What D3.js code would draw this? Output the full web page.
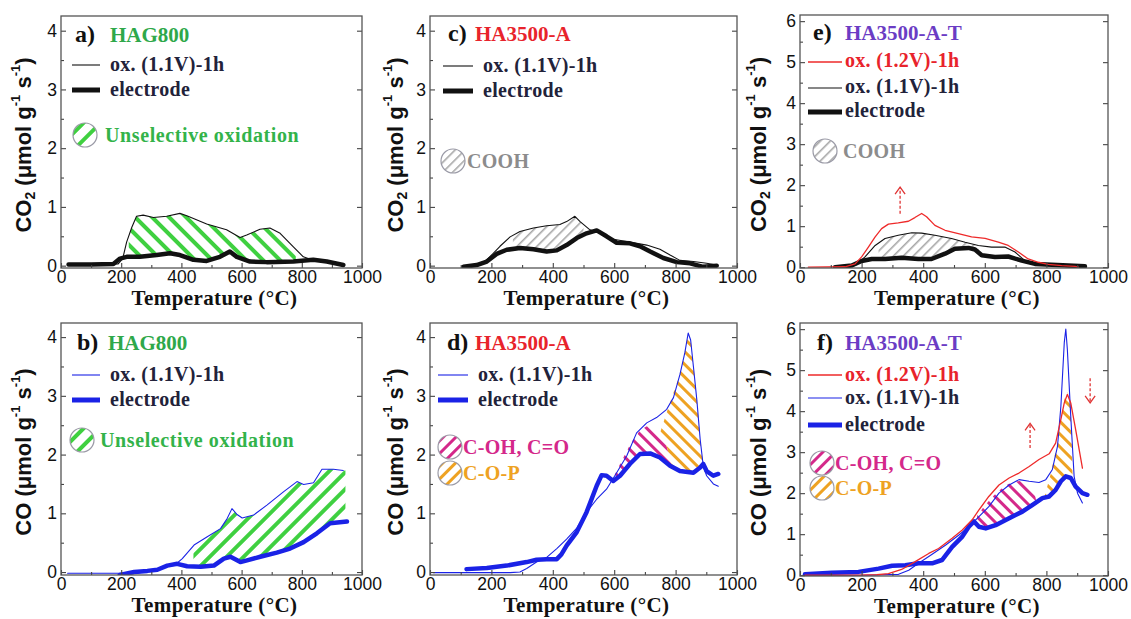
<!DOCTYPE html>
<html><head><meta charset="utf-8">
<script src="https://cdn.jsdelivr.net/npm/d3@7"></script>
<style>
html,body{margin:0;padding:0;background:#fff;}
svg{display:block;}
</style></head>
<body><svg id="fig" width="1131" height="619"></svg>
<script>
// ---------- TPD data: [temperature (°C), desorption rate (µmol g-1 s-1)] ----------
const tempTicks = [0, 200, 400, 600, 800, 1000];
const tempMinor = [100, 300, 500, 700, 900];
const rateTicks4 = [0, 1, 2, 3, 4];
const rateMinor4 = [0.5, 1.5, 2.5, 3.5];
const rateTicks6 = [0, 1, 2, 3, 4, 5, 6];
const rateMinor6 = [0.5, 1.5, 2.5, 3.5, 4.5, 5.5];

// a) HAG800, CO2
const aOx = [[25,0.02],[100,0.02],[190,0.03],[205,0.12],[218,0.4],[235,0.65],[251,0.84],[273,0.86],[307,0.82],[351,0.84],[395,0.89],[418,0.85],[484,0.71],[550,0.61],[595,0.48],[617,0.52],[661,0.62],[694,0.64],[728,0.55],[772,0.32],[805,0.15],[833,0.1],[860,0.09],[905,0.05],[938,0.02]];
const aEl = [[25,0.02],[100,0.02],[174,0.03],[196,0.12],[218,0.15],[262,0.15],[318,0.18],[362,0.21],[395,0.18],[440,0.1],[484,0.08],[528,0.15],[561,0.24],[584,0.15],[628,0.07],[683,0.06],[772,0.07],[838,0.1],[883,0.07],[938,0.01]];
const aBand = [225, 780];

// b) HAG800, CO
const bOx = [[22,-0.02],[200,-0.02],[210,-0.05],[250,-0.02],[300,0.02],[350,0.09],[385,0.15],[403,0.23],[442,0.46],[486,0.6],[530,0.74],[552,0.91],[568,1.08],[585,0.98],[602,0.92],[640,0.97],[684,1.14],[740,1.37],[784,1.54],[806,1.49],[839,1.52],[867,1.75],[905,1.75],[938,1.73]];
const bEl = [[195,-0.05],[243,0.0],[287,0.02],[320,0.04],[353,0.11],[386,0.14],[419,0.1],[464,0.09],[508,0.11],[541,0.23],[563,0.26],[596,0.17],[618,0.2],[662,0.26],[717,0.33],[761,0.4],[806,0.51],[850,0.66],[894,0.83],[950,0.86]];
const bBand = [440, 945];

// c) HA3500-A, CO2
const cOx = [[119,0],[163,0.02],[185,0.1],[206,0.21],[228,0.33],[261,0.49],[293,0.58],[337,0.64],[380,0.68],[423,0.7],[445,0.75],[472,0.84],[489,0.75],[521,0.61],[554,0.55],[597,0.45],[641,0.41],[706,0.35],[749,0.28],[782,0.18],[814,0.09],[858,0.07],[901,0.04],[934,0.01]];
const cEl = [[109,-0.02],[152,0.01],[185,0.07],[217,0.2],[250,0.27],[293,0.3],[337,0.28],[380,0.24],[413,0.26],[445,0.35],[478,0.47],[510,0.55],[543,0.6],[575,0.5],[608,0.39],[651,0.38],[684,0.33],[717,0.24],[760,0.13],[804,0.06],[847,0.04],[890,-0.02],[934,0]];
const cBand = [270, 500];

// d) HA3500-A, CO
const dOx = [[11,-0.01],[150,-0.01],[261,-0.01],[293,0],[315,0.06],[347,0.17],[380,0.25],[413,0.4],[445,0.56],[478,0.75],[510,1.02],[543,1.24],[575,1.41],[608,1.69],[641,1.98],[673,2.37],[706,2.54],[738,2.63],[771,2.77],[793,2.97],[814,3.36],[830,3.73],[841,4.07],[849,3.95],[858,3.5],[869,2.94],[880,2.26],[890,1.81],[901,1.64],[923,1.5],[939,1.46]];
const dEl = [[119,0.05],[185,0.07],[250,0.11],[315,0.17],[347,0.21],[380,0.22],[413,0.22],[428,0.3],[445,0.45],[478,0.68],[510,1.02],[543,1.47],[559,1.65],[575,1.64],[597,1.55],[619,1.64],[651,1.84],[684,2.01],[717,2.02],[749,1.95],[782,1.81],[814,1.72],[858,1.69],[880,1.78],[890,1.84],[901,1.72],[923,1.64],[939,1.67]];
const dPinkTop = [[598,1.62],[625,1.9],[655,2.2],[685,2.42],[712,2.5],[735,2.45],[755,2.32],[772,2.12],[785,1.86]];
const dOrangeEdge = [[745,2.3],[775,2.78],[803,3.2]];

// e) HA3500-A-T, CO2
const eRed = [[27,0],[146,0.01],[179,0.08],[200,0.25],[222,0.49],[244,0.74],[265,0.94],[287,1.05],[319,1.08],[352,1.12],[373,1.21],[395,1.31],[411,1.23],[438,1.02],[471,0.9],[514,0.82],[557,0.74],[601,0.7],[644,0.61],[676,0.53],[709,0.37],[741,0.2],[774,0.12],[806,0.07],[850,0.04],[893,0.02],[904,0]];
const eOx = [[114,0],[179,0.04],[211,0.25],[244,0.53],[276,0.7],[319,0.78],[363,0.84],[395,0.83],[438,0.78],[492,0.7],[536,0.61],[579,0.53],[622,0.49],[665,0.49],[698,0.37],[730,0.16],[774,0.08],[828,0.04],[882,0]];
const eEl = [[114,0],[168,0.04],[200,0.15],[233,0.2],[276,0.2],[330,0.23],[384,0.2],[427,0.2],[471,0.33],[503,0.45],[547,0.47],[568,0.43],[590,0.29],[633,0.25],[676,0.26],[720,0.16],[763,0.08],[817,0.06],[871,0.04],[925,0.02]];
const eBand = [255, 580];
const eArrow = [[325,1.3],[325,1.95]];

// f) HA3500-A-T, CO
const fRed = [[16,0],[190,0],[250,0.01],[287,0.04],[330,0.14],[374,0.33],[418,0.53],[450,0.65],[494,0.9],[527,1.1],[559,1.35],[581,1.59],[613,1.92],[646,2.2],[679,2.37],[711,2.49],[744,2.65],[776,2.82],[809,2.96],[830,3.22],[847,3.8],[858,4.2],[868,4.41],[879,4.2],[895,3.55],[917,2.61]];
const fOx = [[16,0],[200,0],[320,0.02],[353,0.12],[385,0.29],[429,0.51],[472,0.73],[516,0.98],[548,1.18],[581,1.43],[613,1.67],[646,2.0],[679,2.2],[711,2.33],[744,2.29],[776,2.26],[798,2.33],[819,2.57],[836,3.14],[847,4.12],[858,5.67],[863,6.0],[868,5.51],[879,3.88],[890,2.41],[901,2.0],[917,1.76]];
const fEl = [[16,0.02],[103,0.06],[190,0.08],[255,0.16],[299,0.23],[342,0.24],[385,0.29],[429,0.29],[461,0.37],[494,0.69],[527,0.94],[548,1.18],[565,1.31],[581,1.18],[603,1.14],[635,1.22],[679,1.39],[722,1.55],[754,1.71],[787,1.88],[809,1.92],[830,2.08],[847,2.29],[863,2.41],[879,2.37],[895,2.16],[917,2.0],[933,1.96]];
const fPinkTop = [[575,1.45],[600,1.7],[630,1.95],[660,2.15],[690,2.28],[720,2.3],[745,2.25],[760,2.05],[768,1.78]];
const fOrangeTop = [[795,1.95],[815,2.5],[835,3.2],[850,3.9],[862,4.45],[870,4.45],[878,4.2],[882,3.4],[885,2.4]];
const fArrowUp = [[747,3.1],[747,3.7]];
const fArrowDown = [[942,4.8],[942,4.2]];

// ---------- styling ----------
const SANS = "'Liberation Sans', Arial, sans-serif";
const SERIF = "'Liberation Serif', 'Times New Roman', serif";
const INK = '#111';
const BLUE = '#1a22e6';
const RED = '#ee2a2a';
const GREEN_TXT = '#2ea84a';
const GREEN_LBL = '#33b34a';
const RED_TXT = '#e8232b';
const PURPLE = '#6b3cc4';
const NAVY = '#22223a';
const GRAY_TXT = '#8c8c8c';
const PINK = '#d4288a';
const ORANGE = '#eea222';

const svg = d3.select('#fig');
const defs = svg.append('defs');

function hatch(id, color, angle, gap, width) {
  const p = defs.append('pattern').attr('id', id)
    .attr('patternUnits', 'userSpaceOnUse')
    .attr('width', gap).attr('height', gap)
    .attr('patternTransform', `rotate(${angle})`);
  p.append('rect').attr('x', 0).attr('y', 0).attr('width', width).attr('height', gap).attr('fill', color);
}
hatch('hGreenBack', '#3fd040', -45, 12, 4);
hatch('hGreenFwd', '#3fd040', 45, 12, 4);
hatch('hGray', '#a8a8a8', 45, 7, 1.6);
hatch('hPinkBack', PINK, -45, 9, 3);
hatch('hPinkFwd', PINK, 45, 9, 3);
hatch('hOrgBack', ORANGE, -45, 9, 3);
hatch('hOrgFwd', ORANGE, 45, 9, 3);

// linear interpolation along a measured curve
function at(series, t) {
  if (t <= series[0][0]) return series[0][1];
  for (let i = 1; i < series.length; i++) {
    if (t <= series[i][0]) {
      const [t0, v0] = series[i - 1], [t1, v1] = series[i];
      return v0 + (v1 - v0) * (t - t0) / (t1 - t0);
    }
  }
  return series[series.length - 1][1];
}
function sample(series, t0, t1, step = 3) {
  const pts = [];
  const dir = t1 >= t0 ? 1 : -1;
  for (let t = t0; dir > 0 ? t < t1 : t > t1; t += dir * step) pts.push([t, at(series, t)]);
  pts.push([t1, at(series, t1)]);
  return pts;
}
function band(upper, lower, range) {
  return sample(upper, range[0], range[1]).concat(sample(lower, range[1], range[0]));
}
function capOver(top, lower) {
  const t0 = top[0][0], t1 = top[top.length - 1][0];
  return top.concat(sample(lower, t1, t0));
}
const dOrangePoly = dOrangeEdge
  .concat(dOx.filter(d => d[0] > 803 && d[0] <= 890))
  .concat(sample(dEl, 890, 785))
  .concat(dPinkTop.filter(d => d[0] >= 745 && d[0] <= 785).reverse());

// ---------- panels ----------
const panels = [
  { key: 'a', x: [61, 362], y: [268, 16], dom: [-0.04, 4.25], ticks: rateTicks4, minor: rateMinor4, gas: 'CO2', titleX: 25,
    label: 'a)', name: 'HAG800', nameColor: GREEN_TXT, labelPos: [14, 26], namePos: [49, 26],
    bands: [{ poly: band(aOx, aEl, aBand), fill: 'url(#hGreenBack)' }],
    series: [{ d: aEl, c: INK, w: 4.5 }, { d: aOx, c: INK, w: 1.1 }],
    legend: [
      { type: 'line', c: INK, w: 1.1, x: [11, 39], y: 49, text: 'ox. (1.1V)-1h', tc: NAVY, tx: 49, ty: 55 },
      { type: 'line', c: INK, w: 5, x: [11, 39], y: 74, text: 'electrode', tc: NAVY, tx: 49, ty: 80 },
      { type: 'circle', fill: 'url(#hGreenFwd)', cx: 24, cy: 119, text: 'Unselective oxidation', tc: GREEN_LBL, tx: 44, ty: 126, ls: 0.6 }
    ] },
  { key: 'b', x: [61, 362], y: [575, 323], dom: [-0.05, 4.24], ticks: rateTicks4, minor: rateMinor4, gas: 'CO', titleX: 25,
    label: 'b)', name: 'HAG800', nameColor: GREEN_TXT, labelPos: [16, 27], namePos: [47, 27],
    bands: [{ poly: band(bOx, bEl, bBand), fill: 'url(#hGreenFwd)' }],
    series: [{ d: bEl, c: BLUE, w: 4.5 }, { d: bOx, c: BLUE, w: 1.1 }],
    legend: [
      { type: 'line', c: BLUE, w: 1.1, x: [11, 39], y: 52, text: 'ox. (1.1V)-1h', tc: NAVY, tx: 49, ty: 58 },
      { type: 'line', c: BLUE, w: 5, x: [11, 39], y: 77, text: 'electrode', tc: NAVY, tx: 49, ty: 83 },
      { type: 'circle', fill: 'url(#hGreenFwd)', cx: 21, cy: 117, text: 'Unselective oxidation', tc: GREEN_LBL, tx: 39, ty: 124, ls: 0.6 }
    ] },
  { key: 'c', x: [430, 737], y: [268, 16], dom: [-0.04, 4.25], ticks: rateTicks4, minor: rateMinor4, gas: 'CO2', titleX: 397,
    label: 'c)', name: 'HA3500-A', nameColor: RED_TXT, labelPos: [18, 25], namePos: [45, 25],
    bands: [{ poly: band(cOx, cEl, cBand), fill: 'url(#hGray)' }],
    series: [{ d: cEl, c: INK, w: 4.5 }, { d: cOx, c: INK, w: 1.1 }],
    legend: [
      { type: 'line', c: INK, w: 1.1, x: [13, 43], y: 50, text: 'ox. (1.1V)-1h', tc: NAVY, tx: 53, ty: 56 },
      { type: 'line', c: INK, w: 5, x: [13, 43], y: 75, text: 'electrode', tc: NAVY, tx: 53, ty: 81 },
      { type: 'circle', fill: 'url(#hGray)', cx: 23, cy: 145, text: 'COOH', tc: GRAY_TXT, tx: 37, ty: 152 }
    ] },
  { key: 'd', x: [430, 737], y: [575, 323], dom: [-0.05, 4.24], ticks: rateTicks4, minor: rateMinor4, gas: 'CO', titleX: 397,
    label: 'd)', name: 'HA3500-A', nameColor: RED_TXT, labelPos: [17, 27], namePos: [45, 27],
    bands: [{ poly: capOver(dPinkTop, dEl), fill: 'url(#hPinkBack)' }, { poly: dOrangePoly, fill: 'url(#hOrgBack)' }],
    series: [{ d: dEl, c: BLUE, w: 4.5 }, { d: dOx, c: BLUE, w: 1.1 }],
    legend: [
      { type: 'line', c: BLUE, w: 1.1, x: [8, 38], y: 52, text: 'ox. (1.1V)-1h', tc: NAVY, tx: 48, ty: 58 },
      { type: 'line', c: BLUE, w: 5, x: [8, 38], y: 77, text: 'electrode', tc: NAVY, tx: 48, ty: 83 },
      { type: 'circle', fill: 'url(#hPinkFwd)', cx: 20, cy: 124, text: 'C-OH, C=O', tc: PINK, tx: 33, ty: 131 },
      { type: 'circle', fill: 'url(#hOrgFwd)', cx: 20, cy: 150, text: 'C-O-P', tc: ORANGE, tx: 33, ty: 157 }
    ] },
  { key: 'e', x: [800, 1108], y: [268, 15], dom: [-0.02, 6.15], ticks: rateTicks6, minor: rateMinor6, gas: 'CO2', titleX: 760,
    label: 'e)', name: 'HA3500-A-T', nameColor: PURPLE, labelPos: [13, 25], namePos: [45, 25],
    bands: [{ poly: band(eOx, eEl, eBand), fill: 'url(#hGray)' }],
    series: [{ d: eEl, c: INK, w: 4.5 }, { d: eOx, c: INK, w: 1.1 }, { d: eRed, c: RED, w: 1.3 }],
    arrows: [eArrow],
    legend: [
      { type: 'line', c: RED, w: 1.3, x: [8, 42], y: 47, text: 'ox. (1.2V)-1h', tc: RED_TXT, tx: 45, ty: 52 },
      { type: 'line', c: INK, w: 1.1, x: [8, 42], y: 73, text: 'ox. (1.1V)-1h', tc: NAVY, tx: 45, ty: 78 },
      { type: 'line', c: INK, w: 5, x: [8, 42], y: 97, text: 'electrode', tc: NAVY, tx: 45, ty: 102 },
      { type: 'circle', fill: 'url(#hGray)', cx: 25, cy: 136, text: 'COOH', tc: GRAY_TXT, tx: 43, ty: 143 }
    ] },
  { key: 'f', x: [800, 1108], y: [576, 323], dom: [-0.02, 6.15], ticks: rateTicks6, minor: rateMinor6, gas: 'CO', titleX: 760,
    label: 'f)', name: 'HA3500-A-T', nameColor: PURPLE, labelPos: [17, 27], namePos: [45, 27],
    bands: [{ poly: capOver(fPinkTop, fEl), fill: 'url(#hPinkBack)' }, { poly: capOver(fOrangeTop, fEl), fill: 'url(#hOrgBack)' }],
    series: [{ d: fEl, c: BLUE, w: 4.5 }, { d: fOx, c: BLUE, w: 1.1 }, { d: fRed, c: RED, w: 1.3 }],
    arrows: [fArrowUp, fArrowDown],
    legend: [
      { type: 'line', c: RED, w: 1.3, x: [8, 42], y: 52, text: 'ox. (1.2V)-1h', tc: RED_TXT, tx: 45, ty: 58 },
      { type: 'line', c: BLUE, w: 1.1, x: [8, 42], y: 75, text: 'ox. (1.1V)-1h', tc: NAVY, tx: 45, ty: 81 },
      { type: 'line', c: BLUE, w: 5, x: [8, 42], y: 102, text: 'electrode', tc: NAVY, tx: 45, ty: 108 },
      { type: 'circle', fill: 'url(#hPinkFwd)', cx: 22, cy: 140, text: 'C-OH, C=O', tc: PINK, tx: 35, ty: 147 },
      { type: 'circle', fill: 'url(#hOrgFwd)', cx: 22, cy: 165, text: 'C-O-P', tc: ORANGE, tx: 35, ty: 172 }
    ] }
];

panels.forEach(p => {
  const x = d3.scaleLinear().domain([0, 1000]).range(p.x);
  const y = d3.scaleLinear().domain(p.dom).range(p.y);
  const g = svg.append('g').attr('class', 'panel-' + p.key);
  const x0 = p.x[0], yTop = p.y[1], yBot = p.y[0], w = p.x[1] - p.x[0];

  const clipId = 'clip-' + p.key;
  defs.append('clipPath').attr('id', clipId)
    .append('rect').attr('x', x0).attr('y', yTop).attr('width', w).attr('height', yBot - yTop);
  const plot = g.append('g').attr('clip-path', `url(#${clipId})`);

  const path = d3.line().x(d => x(d[0])).y(d => y(d[1]));

  // hatched regions
  (p.bands || []).forEach(b => {
    plot.append('path').attr('d', path(b.poly) + 'Z').attr('fill', b.fill).attr('stroke', 'none');
  });

  // curves
  p.series.forEach(s => {
    plot.append('path').attr('d', path(s.d)).attr('fill', 'none')
      .attr('stroke', s.c).attr('stroke-width', s.w)
      .attr('stroke-linejoin', 'round').attr('stroke-linecap', 'round');
  });

  // dashed arrows
  (p.arrows || []).forEach(a => {
    const [[t0, v0], [t1, v1]] = a;
    const X0 = x(t0), Y0 = y(v0), X1 = x(t1), Y1 = y(v1);
    g.append('line').attr('x1', X0).attr('y1', Y0).attr('x2', X1).attr('y2', Y1)
      .attr('stroke', '#e03535').attr('stroke-width', 1.3).attr('stroke-dasharray', '3,2');
    const dir = Math.sign(Y1 - Y0);
    g.append('path').attr('d', `M${X1 - 5},${Y1 - dir * 7}L${X1},${Y1}L${X1 + 5},${Y1 - dir * 7}`)
      .attr('fill', 'none').attr('stroke', '#e03535').attr('stroke-width', 1.3);
  });

  // axes with inward ticks
  const axStyle = sel => {
    sel.select('.domain').remove();
    sel.selectAll('line').attr('stroke', '#444').attr('stroke-width', 1.1);
    sel.selectAll('text').attr('font-family', SANS).attr('font-size', 17.5).attr('fill', INK);
  };
  g.append('g').attr('transform', `translate(0,${yBot})`)
    .call(d3.axisBottom(x).tickValues(tempTicks).tickSize(-5).tickPadding(3).tickFormat(d3.format('d')))
    .call(axStyle);
  g.append('g').attr('transform', `translate(0,${yBot})`)
    .call(d3.axisBottom(x).tickValues(tempMinor).tickSize(-3).tickFormat(''))
    .call(axStyle);
  g.append('g').attr('transform', `translate(${x0},0)`)
    .call(d3.axisLeft(y).tickValues(p.ticks).tickSize(-5).tickPadding(4).tickFormat(d3.format('d')))
    .call(axStyle);
  g.append('g').attr('transform', `translate(${x0},0)`)
    .call(d3.axisLeft(y).tickValues(p.minor).tickSize(-3).tickFormat(''))
    .call(axStyle);
  g.append('g').attr('transform', `translate(${p.x[1]},0)`)
    .call(d3.axisRight(y).tickValues(p.ticks).tickSize(-5).tickFormat(''))
    .call(axStyle);

  // frame
  g.append('rect').attr('x', x0).attr('y', yTop).attr('width', w).attr('height', yBot - yTop)
    .attr('fill', 'none').attr('stroke', '#555').attr('stroke-width', 1.3);

  // axis titles
  g.append('text').attr('x', x0 + w / 2 + 3).attr('y', yBot + 37)
    .attr('text-anchor', 'middle').attr('font-family', SERIF).attr('font-weight', 'bold')
    .attr('font-size', 21).attr('letter-spacing', 0.4).attr('fill', INK).text('Temperature (°C)');

  const yt = g.append('text')
    .attr('transform', `translate(${p.titleX},${(yTop + yBot) / 2 + 3}) rotate(-90)`)
    .attr('text-anchor', 'middle').attr('dominant-baseline', 'middle')
    .attr('font-family', SANS).attr('font-weight', 'bold').attr('font-size', 22).attr('fill', INK);
  yt.append('tspan').text('CO');
  if (p.gas === 'CO2') {
    yt.append('tspan').attr('font-size', 14).attr('dy', 6).text('2');
    yt.append('tspan').attr('dy', -6).text(' (\u03bcmol g');
  } else {
    yt.append('tspan').text(' (\u03bcmol g');
  }
  yt.append('tspan').attr('font-size', 13).attr('dy', -8).text('-1');
  yt.append('tspan').attr('dy', 8).text(' s');
  yt.append('tspan').attr('font-size', 13).attr('dy', -8).text('-1');
  yt.append('tspan').attr('dy', 8).text(')');

  // panel label and sample name
  g.append('text').attr('x', x0 + p.labelPos[0]).attr('y', yTop + p.labelPos[1])
    .attr('font-family', SERIF).attr('font-weight', 'bold').attr('font-size', 24).attr('fill', INK).text(p.label);
  g.append('text').attr('x', x0 + p.namePos[0]).attr('y', yTop + p.namePos[1])
    .attr('font-family', SERIF).attr('font-weight', 'bold').attr('font-size', 21).attr('fill', p.nameColor).text(p.name);

  // legend
  p.legend.forEach(it => {
    if (it.type === 'line') {
      g.append('line').attr('x1', x0 + it.x[0]).attr('x2', x0 + it.x[1])
        .attr('y1', yTop + it.y).attr('y2', yTop + it.y)
        .attr('stroke', it.c).attr('stroke-width', it.w);
    } else {
      g.append('circle').attr('cx', x0 + it.cx).attr('cy', yTop + it.cy).attr('r', 12)
        .attr('fill', it.fill).attr('stroke', '#9a9aa6').attr('stroke-width', 1.2);
    }
    g.append('text').attr('x', x0 + it.tx).attr('y', yTop + it.ty)
      .attr('font-family', SERIF).attr('font-weight', 'bold').attr('font-size', 20)
      .attr('letter-spacing', it.ls || 0.3).attr('fill', it.tc).text(it.text);
  });
});
</script>
</body></html>
